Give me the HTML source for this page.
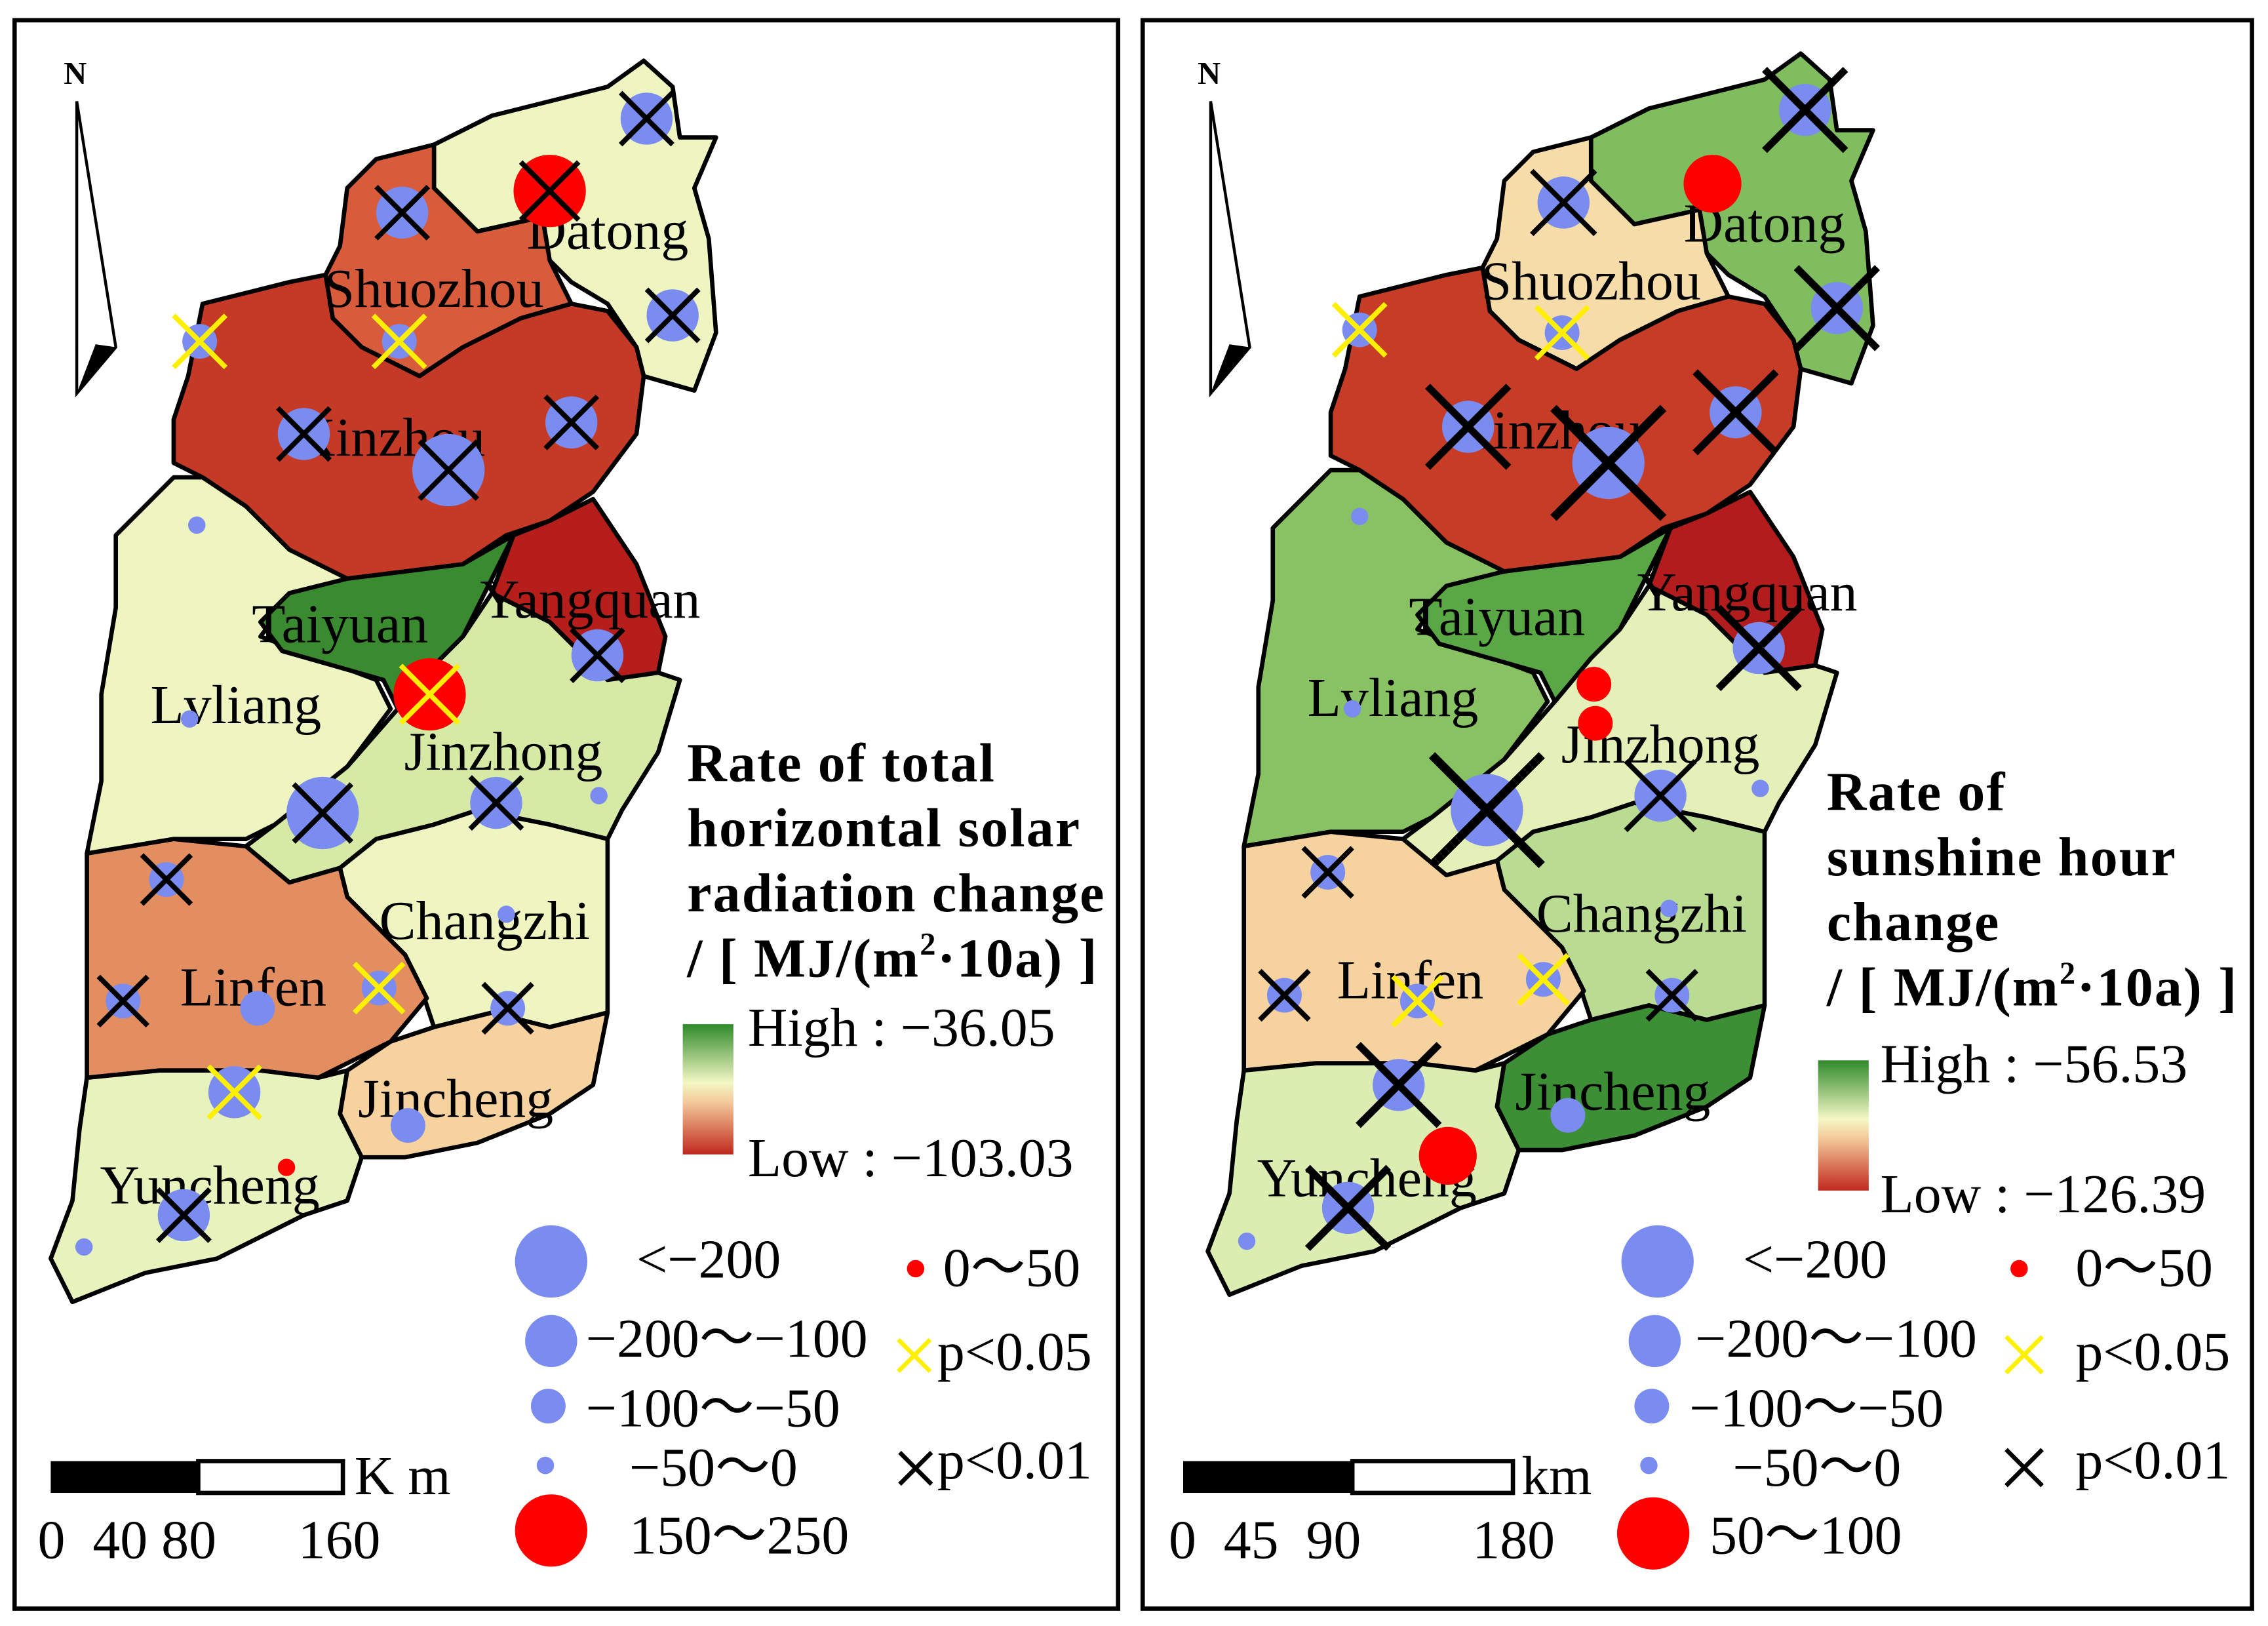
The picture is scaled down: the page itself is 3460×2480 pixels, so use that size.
<!DOCTYPE html>
<html><head><meta charset="utf-8"><style>
html,body{margin:0;padding:0;background:#fff}
svg{display:block}
text{font-family:"Liberation Serif",serif}
</style></head><body>
<svg id="fig" width="3460" height="2480" viewBox="0 0 1568 1124" xmlns="http://www.w3.org/2000/svg">
<rect width="1568" height="1124" fill="#fff"/>
<rect x="10" y="14" width="763" height="1098" fill="none" stroke="#000" stroke-width="3"/>
<rect x="790" y="14" width="767" height="1098" fill="none" stroke="#000" stroke-width="3"/>
<g id="leftMap"></g>
<g id="rightMap" transform="translate(800,-5)"></g>

<g>
<text x="44" y="58" font-size="22" font-weight="bold" font-family="Liberation Sans,sans-serif">N</text>
<polygon points="53,70 80,240 53,272" fill="#fff" stroke="#000" stroke-width="2"/>
<polygon points="53,272 80,240 66,238" fill="#000"/>
</g>
<g>
<text x="828" y="58" font-size="22" font-weight="bold" font-family="Liberation Sans,sans-serif">N</text>
<polygon points="837,70 864,240 837,272" fill="#fff" stroke="#000" stroke-width="2"/>
<polygon points="837,272 864,240 850,238" fill="#000"/>
</g>

<defs>
<linearGradient id="g1" x1="0" y1="0" x2="0" y2="1">
<stop offset="0" stop-color="#2f8a2a"/><stop offset="0.45" stop-color="#f4f7c4"/><stop offset="0.6" stop-color="#f4c99a"/><stop offset="1" stop-color="#c0281e"/>
</linearGradient>
</defs>

<g font-size="38">
<text x="475" y="540" font-weight="bold" letter-spacing="1">Rate of total</text>
<text x="475" y="585" font-weight="bold" letter-spacing="1">horizontal solar</text>
<text x="475" y="630" font-weight="bold" letter-spacing="1">radiation change</text>
<text x="475" y="675" font-weight="bold" letter-spacing="1">/ [ MJ/(m<tspan font-size="22" dy="-15">2</tspan><tspan dy="15">·10a) ]</tspan></text>
<rect x="472" y="708" width="35" height="90" fill="url(#g1)"/>
<text x="517" y="723">High : −36.05</text>
<text x="517" y="813">Low : −103.03</text>
</g>
<g font-size="38">
<text x="1263" y="560" font-weight="bold" letter-spacing="1">Rate of</text>
<text x="1263" y="605" font-weight="bold" letter-spacing="1">sunshine hour</text>
<text x="1263" y="650" font-weight="bold" letter-spacing="1">change</text>
<text x="1263" y="695" font-weight="bold" letter-spacing="1">/ [ MJ/(m<tspan font-size="22" dy="-15">2</tspan><tspan dy="15">·10a) ]</tspan></text>
<rect x="1257" y="733" width="35" height="90" fill="url(#g1)"/>
<text x="1300" y="748">High : −56.53</text>
<text x="1300" y="838">Low : −126.39</text>
</g>

<g font-size="38">
<circle cx="381" cy="872" r="25" fill="#7b8cf0"/><text x="440" y="883">&lt;−200</text>
<circle cx="381" cy="927" r="18" fill="#7b8cf0"/><text x="405" y="938">−200～−100</text>
<circle cx="379" cy="972" r="12" fill="#7b8cf0"/><text x="405" y="986">−100～−50</text>
<circle cx="377" cy="1013" r="6" fill="#7b8cf0"/><text x="435" y="1027">−50～0</text>
<circle cx="381" cy="1058" r="25" fill="#f00"/><text x="435" y="1074">150～250</text>
<circle cx="633" cy="877" r="6" fill="#f00"/><text x="652" y="889">0～50</text>
<path d="M621,926 L643,948 M643,926 L621,948" stroke="#ffef00" stroke-width="3"/><text x="648" y="947">p&lt;0.05</text>
<path d="M622,1004 L644,1026 M644,1004 L622,1026" stroke="#000" stroke-width="3"/><text x="648" y="1022">p&lt;0.01</text>
</g>
<g font-size="38">
<circle cx="1146" cy="872" r="25" fill="#7b8cf0"/><text x="1205" y="883">&lt;−200</text>
<circle cx="1144" cy="927" r="18" fill="#7b8cf0"/><text x="1172" y="938">−200～−100</text>
<circle cx="1142" cy="972" r="12" fill="#7b8cf0"/><text x="1168" y="986">−100～−50</text>
<circle cx="1140" cy="1013" r="6" fill="#7b8cf0"/><text x="1198" y="1027">−50～0</text>
<circle cx="1143" cy="1060" r="25" fill="#f00"/><text x="1182" y="1074">50～100</text>
<circle cx="1396" cy="877" r="6" fill="#f00"/><text x="1435" y="889">0～50</text>
<path d="M1387,924 L1412,949 M1412,924 L1387,949" stroke="#ffef00" stroke-width="3"/><text x="1435" y="947">p&lt;0.05</text>
<path d="M1387,1002 L1412,1027 M1412,1002 L1387,1027" stroke="#000" stroke-width="3"/><text x="1435" y="1022">p&lt;0.01</text>
</g>

<g font-size="38">
<rect x="35" y="1010" width="102" height="22" fill="#000"/>
<rect x="137" y="1010" width="100" height="22" fill="#fff" stroke="#000" stroke-width="3"/>
<text x="245" y="1033">K m</text>
<text x="26" y="1077" xml:space="preserve">0  40 80</text>
<text x="206" y="1077">160</text>
</g>
<g font-size="38">
<rect x="818" y="1010" width="117" height="22" fill="#000"/>
<rect x="935" y="1010" width="111" height="22" fill="#fff" stroke="#000" stroke-width="3"/>
<text x="1052" y="1033">km</text>
<text x="808" y="1077" xml:space="preserve">0  45  90</text>
<text x="1018" y="1077">180</text>
</g>
</svg>
<script>
const regionNames = ["Datong","Shuozhou","Xinzhou","Lvliang","Taiyuan","Yangquan","Jinzhong","Changzhi","Linfen","Jincheng","Yuncheng"];
const regionPolys = [
"300,100 340,80 380,70 420,60 445,42 465,60 470,95 495,95 480,130 490,165 495,230 480,270 445,260 440,240 420,210 395,195 380,180 375,150 330,160 300,130",
"240,130 260,110 300,100 300,130 330,160 375,150 380,180 395,210 360,220 320,240 290,260 250,240 230,220 225,190 235,170",
"130,260 140,210 200,195 225,190 230,220 250,240 290,260 320,240 360,220 395,210 420,215 440,240 445,260 440,300 410,340 380,360 350,370 320,390 280,395 240,400 200,380 170,350 140,330 120,320 120,290",
"80,370 120,330 140,330 170,350 200,380 240,400 195,420 180,440 260,470 270,490 240,530 190,570 170,580 120,580 60,590 70,540 70,480 80,420",
"180,430 200,410 240,400 280,395 320,390 355,370 340,400 330,420 320,440 300,460 275,490 265,470 230,460 195,450",
"355,370 380,360 410,345 440,390 460,440 455,465 420,470 400,450 380,430 340,410",
"275,490 300,460 320,440 340,410 380,430 400,450 420,470 455,465 470,470 455,520 430,560 420,580 380,570 330,560 300,570 260,580 235,600 200,610 170,585 190,570 240,530",
"235,600 260,580 300,570 330,560 380,570 420,580 420,640 420,700 380,710 340,700 300,710 290,680 280,660 260,640 240,620",
"60,590 120,580 170,585 200,610 235,600 240,620 260,640 280,660 295,690 270,720 240,735 220,745 180,740 150,740 110,740 60,745 60,700 60,650",
"300,710 340,700 380,710 420,700 410,750 380,770 330,790 280,800 250,800 235,770 240,740 270,720",
"60,745 110,740 150,740 180,740 220,745 240,740 235,770 250,800 240,830 210,840 150,870 100,880 50,900 35,870 50,830 55,780"];
const leftFills = ["#eef5c0","#d85c3c","#c43a26","#eff5c0","#3a8a30","#b51e1a","#d6eaa6","#eff5c0","#e28e60","#f6d39e","#e8f2bc"];
const rightFills = ["#80bd5e","#f6dca8","#c63c26","#88c262","#5aa845","#b31c1c","#e4f0b8","#b9dc92","#f6d29e","#3d8f35","#dcedb2"];
const labelX = [420,300,270,163,235,408,348,335,175,315,145];
const labelY = [172,212,315,500,444,427,532,649,695,772,832];

const lx=[447,278,380,465,138,276,210,395,310,136,413,297,131,223,343,414,115,350,85,178,262,351,162,282,198,127,58];
const ly=[82,147,132,218,236,236,300,292,325,363,453,480,497,562,555,550,608,632,692,697,683,697,755,778,807,840,862];
const lval=[-150,-150,200,-150,-75,-75,-150,-150,-250,-25,-150,200,-25,-250,-150,-25,-75,-25,-75,-75,-75,-75,-150,-75,25,-150,-25];
const lsig=[1,1,1,1,5,5,1,1,1,0,1,5,0,1,1,0,1,0,1,0,5,1,5,0,0,1,0];
const lxs=[18,18,20,18,18,18,18,18,20,0,18,20,0,20,18,0,17,0,17,0,17,17,18,0,0,18,0];
const rx=[1248,1081,1184,1270,940,1080,1015,1200,1112,940,1216,1102,1103,935,1028,1148,1217,918,1154,888,980,1067,1156,967,1084,1001,932,862];
const ry=[76,140,127,213,228,230,295,285,320,357,448,473,500,490,560,550,545,603,628,688,692,677,688,750,771,799,835,858];
const rval=[-150,-150,75,-150,-75,-75,-150,-150,-250,-25,-150,25,25,-25,-250,-150,-25,-75,-25,-75,-75,-75,-75,-150,-75,75,-150,-25];
const rsig=[1,1,0,1,5,5,1,1,1,0,1,0,0,0,1,1,0,1,0,1,5,5,1,1,0,0,1,0];
const rxs=[28,22,0,28,18,18,28,28,38,0,28,0,0,0,38,24,0,17,0,17,17,17,17,28,0,0,28,0];

const NS="http://www.w3.org/2000/svg";
function radius(v){ if(v>=150) return 25; if(v>=50) return 18; if(v>0) return 6; if(v<-200) return 25; if(v<-100) return 18; if(v<-50) return 12; return 6; }
function rad2(v){ if(v>=50) return 20; if(v>0) return 12; return radius(v); }
function drawRegions(g,fills){
  regionPolys.forEach((p,i)=>{
    const el=document.createElementNS(NS,"polygon");
    el.setAttribute("points",p);el.setAttribute("fill",fills[i]);
    el.setAttribute("stroke","#000");el.setAttribute("stroke-width","3");el.setAttribute("stroke-linejoin","round");
    
    
    g.appendChild(el);
  });
}
function drawLabels(g){
  regionNames.forEach((n,i)=>{
    const t=document.createElementNS(NS,"text");
    t.setAttribute("x",labelX[i]);t.setAttribute("y",labelY[i]);t.setAttribute("font-size","38");t.setAttribute("text-anchor","middle");
    t.textContent=n;
    
    
    g.appendChild(t);
  });
}
function drawMarkers(svg,xs,ys,vals,sig,xsz,rfun,prefix){
  const g=document.createElementNS(NS,"g");
  
  
  svg.appendChild(g);
  xs.forEach((x,i)=>{
    const c=document.createElementNS(NS,"circle");
    c.setAttribute("cx",x);c.setAttribute("cy",ys[i]);c.setAttribute("r",rfun(vals[i]));
    c.setAttribute("fill",vals[i]>0?"#f00":"#7b8cf0");
    
    
    g.appendChild(c);
    if(sig[i]){
      const s=xsz[i], p=document.createElementNS(NS,"path");
      p.setAttribute("d",`M${x-s},${ys[i]-s} L${x+s},${ys[i]+s} M${x+s},${ys[i]-s} L${x-s},${ys[i]+s}`);
      p.setAttribute("stroke",sig[i]===5?"#ffef00":"#000");
      p.setAttribute("stroke-width",s>30?6:(s>24?5:3.5));
      
      
      g.appendChild(p);
    }
  });
}
const L=document.getElementById("leftMap"), R=document.getElementById("rightMap"), S=document.getElementById("fig");
drawRegions(L,leftFills); drawRegions(R,rightFills);
drawLabels(L); drawLabels(R);
drawMarkers(S,lx,ly,lval,lsig,lxs,radius,"left");
drawMarkers(S,rx,ry,rval,rsig,rxs,rad2,"right");
</script>
</body></html>
